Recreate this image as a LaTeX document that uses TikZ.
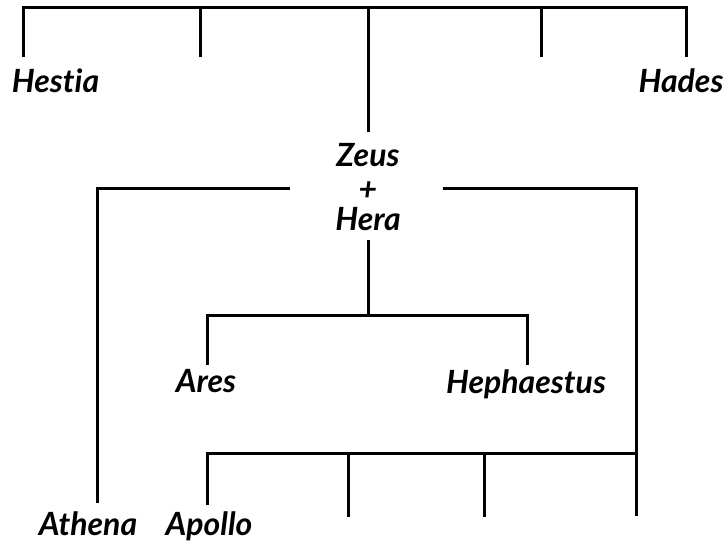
\documentclass[tikz,border=0pt]{standalone}
\usepackage{fontspec}
\setmainfont{Lato}[Ligatures=NoCommon]
\begin{document}
\begin{tikzpicture}[x=1pt,y=-1pt,
  conn/.style={line width=3pt, line cap=butt, line join=miter},
  god/.style={font=\fontsize{32}{34}\selectfont\bfseries\itshape, anchor=base, inner sep=0pt}]
\useasboundingbox (0,0) rectangle (726,546);
% names
\node[god] (hestia) at (55.5,92) {Hestia};
\node[god] (hades) at (681,92) {Hades};
\node[god] (zeus) at (368,166) {Zeus};
\node[god] (plus) at (368,200) {+};
\node[god] (hera) at (368,230) {Hera};
\node[god] (ares) at (206,392) {Ares};
\node[god] (heph) at (526,393) {Hephaestus};
\node[god] (athena) at (88,535) {Athena};
\node[god] (apollo) at (209,535) {Apollo};
% junction coordinates
\coordinate (tl) at (23,7);
\coordinate (tr) at (686,7);
\coordinate (s1) at (23,57);
\coordinate (s2) at (200,57);
\coordinate (s4) at (541,57);
\coordinate (s5) at (686,57);
\coordinate (zt) at (368,132);
\coordinate (hb) at (368,240);
\coordinate (ml) at (290,188);
\coordinate (mr) at (443,188);
\coordinate (cl) at (97,188);
\coordinate (cr) at (636,188);
\coordinate (atE) at (97,503);
\coordinate (rE) at (636,516);
\coordinate (j) at (368,315);
\coordinate (aresT) at (207,315);
\coordinate (hephT) at (527,315);
\coordinate (aresE) at (207,365);
\coordinate (hephE) at (527,365);
\coordinate (bl) at (207,453);
\coordinate (br) at (636,453);
\coordinate (apE) at (207,505);
\coordinate (b2) at (348,517);
\coordinate (b3) at (484,517);
% top generation
\draw[conn] (s1) -- (tl) -- (tr) -- (s5);
\draw[conn] (s2) -- (s2 |- tl);
\draw[conn] (s4) -- (s4 |- tl);
\draw[conn] (zt) -- (zt |- tl);
% Zeus + Hera branches
\draw[conn] (ml) -- (cl) -- (atE);
\draw[conn] (mr) -- (cr) -- (rE);
% Hera children
\draw[conn] (hb) -- (j);
\draw[conn] (aresE) -- (aresT) -- (hephT) -- (hephE);
% bottom bar
\draw[conn] (apE) -- (bl) -- (br);
\draw[conn] (b2) -- (b2 |- bl);
\draw[conn] (b3) -- (b3 |- bl);
\end{tikzpicture}
\end{document}
